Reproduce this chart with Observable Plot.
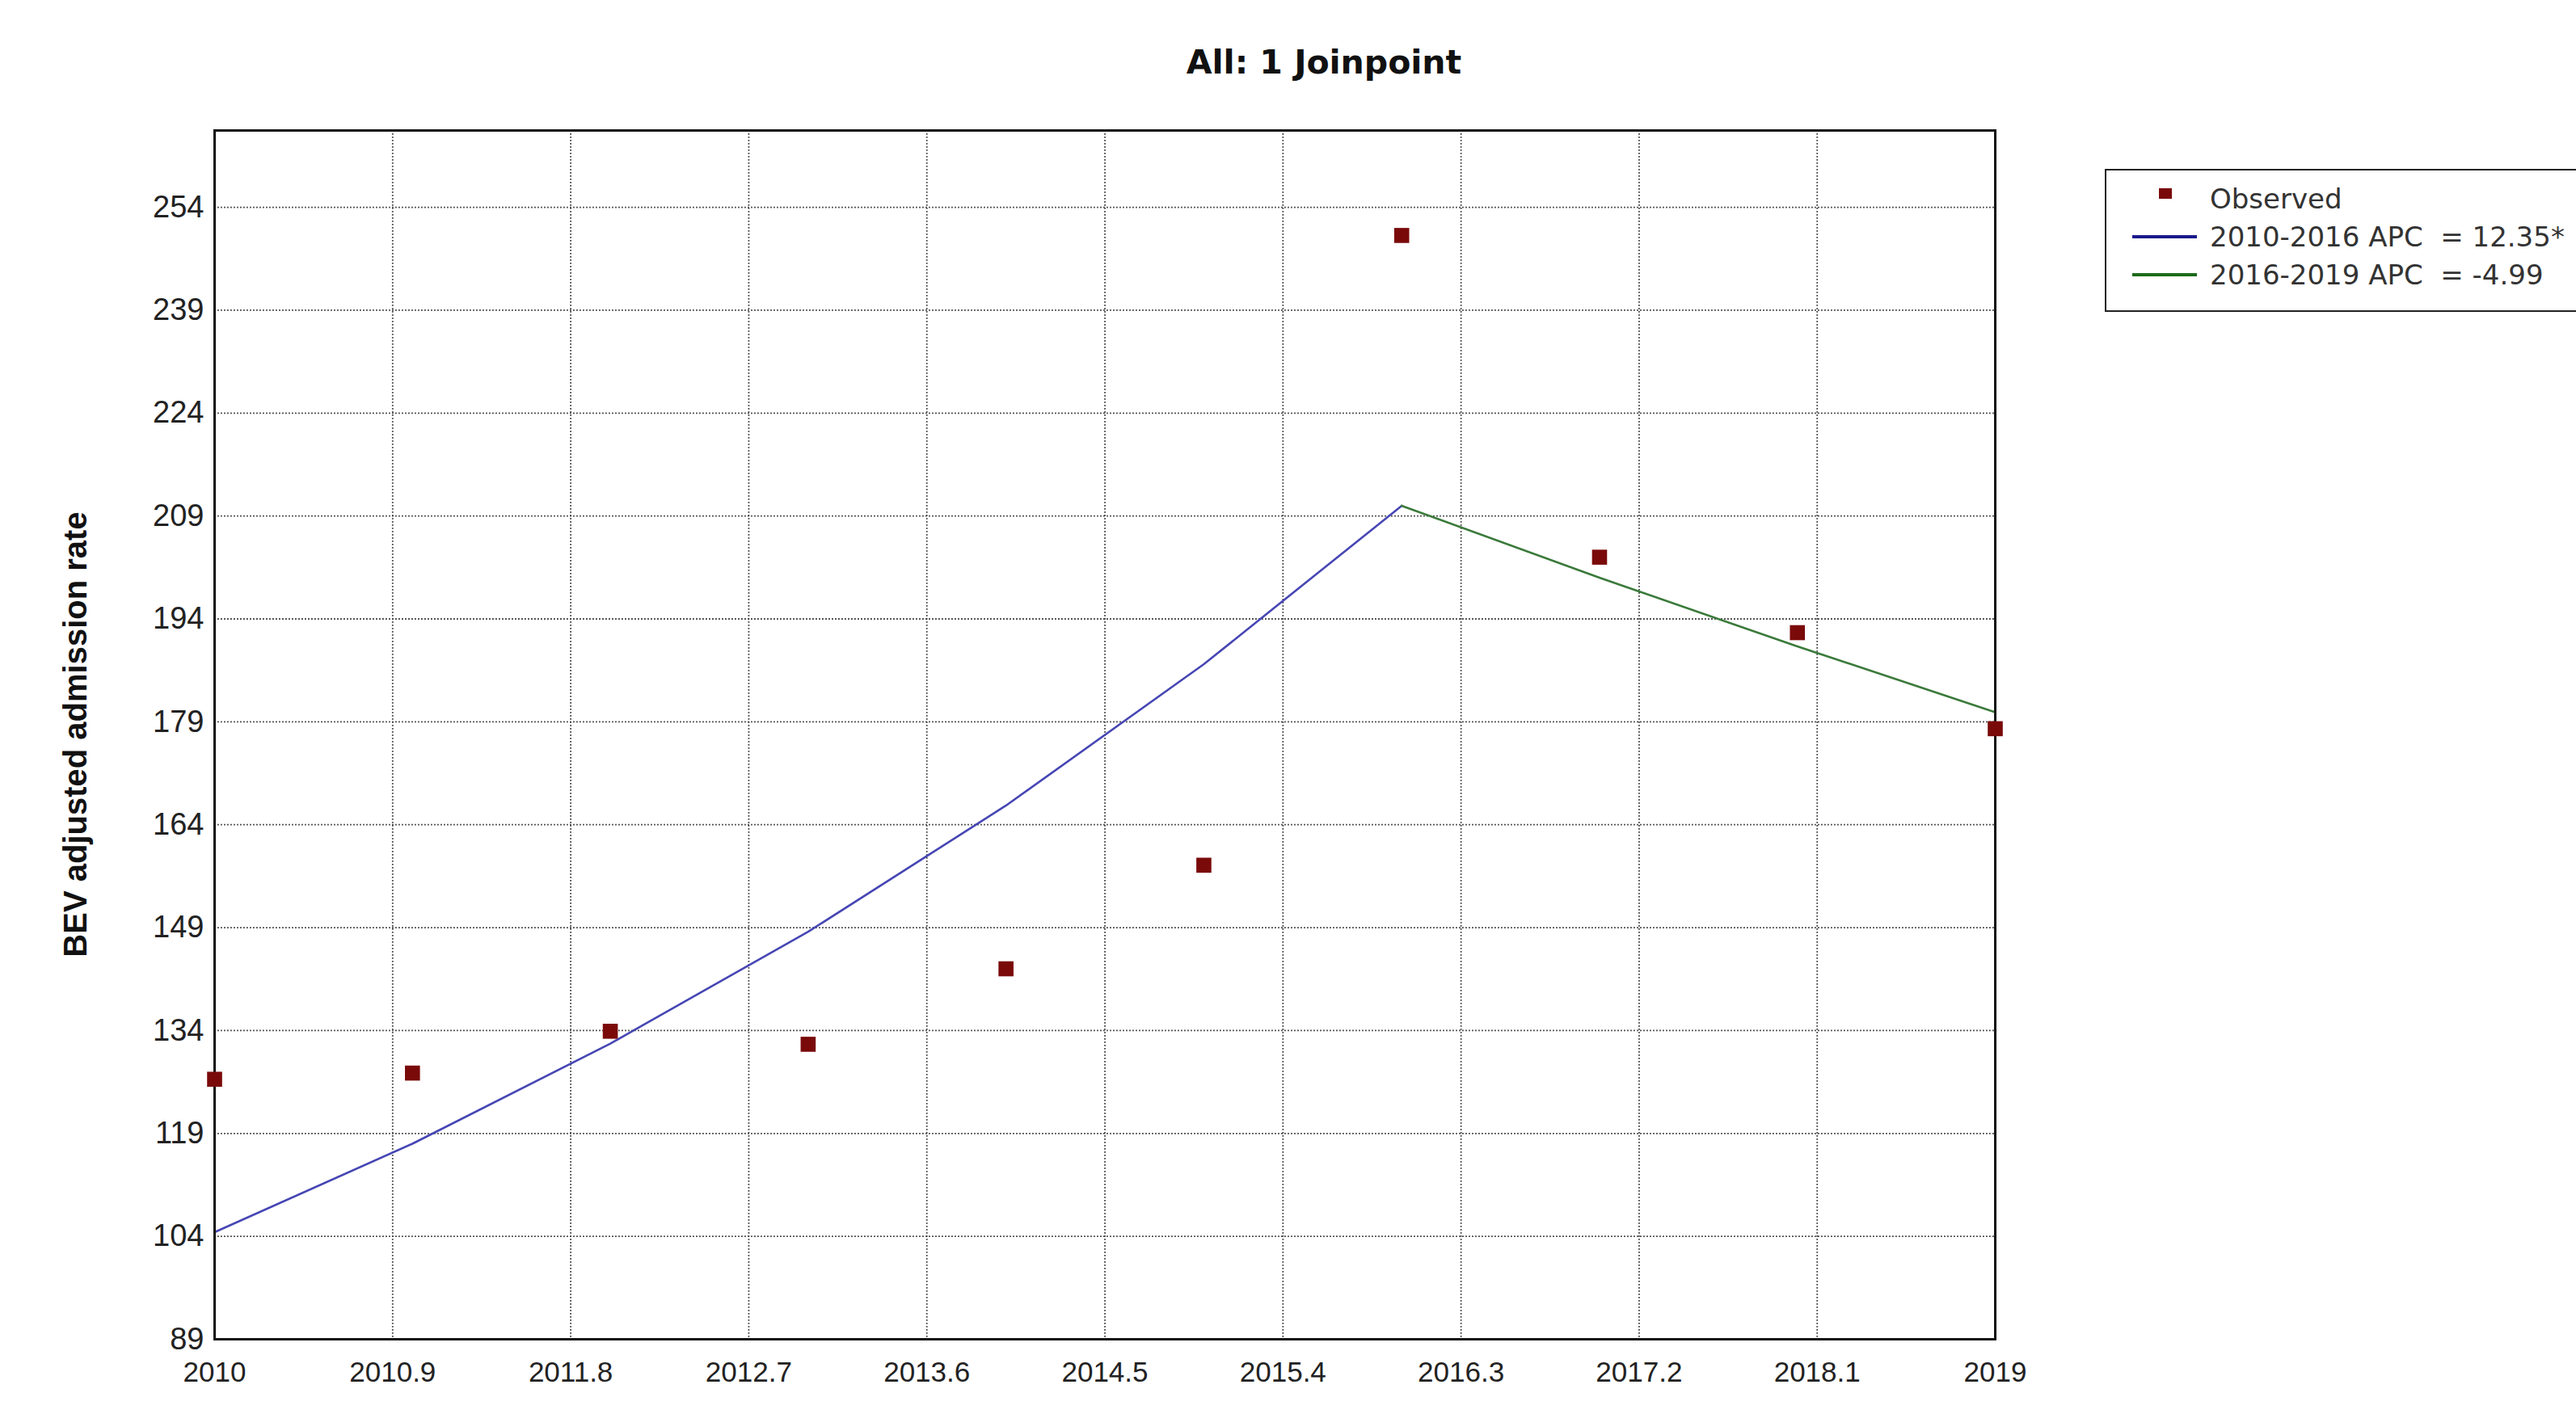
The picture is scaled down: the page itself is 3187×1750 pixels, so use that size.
<!DOCTYPE html>
<html>
<head>
<meta charset="utf-8">
<script src="https://cdn.jsdelivr.net/npm/d3@7"></script>
<script src="https://cdn.jsdelivr.net/npm/@observablehq/plot@0.6"></script>
<style>
  html, body { margin: 0; padding: 0; background: #fff; }
  body { width: 3187px; height: 1750px; overflow: hidden; position: relative; font-family: "Liberation Sans", Arial, sans-serif; }
  #title { height: 120px; position: relative; }
  #title span { position: absolute; left: 1638px; top: 77px; transform: translate(-50%, -50%); font-family: "DejaVu Sans", Verdana, sans-serif; font-weight: bold; font-size: 41px; color: #111; white-space: nowrap; }
  #ylabel { position: absolute; left: 93px; top: 909px; transform: translate(-50%, -50%) rotate(-90deg); font-weight: bold; font-size: 40px; color: #111; white-space: nowrap; }
  #legend { position: absolute; left: 2604px; top: 209px; width: 700px; height: 177px; border: 2.5px solid #222; box-sizing: border-box; font-family: "DejaVu Sans", Verdana, sans-serif; font-size: 34px; color: #333; }
  .row { position: absolute; left: 0; height: 40px; width: 700px; }
  .row .txt { position: absolute; left: 128px; top: 50%; transform: translateY(-50%); white-space: nowrap; }
  .row .sq { position: absolute; left: 65px; top: 50%; width: 16px; height: 13px; transform: translateY(-100%); background: #7a0a0a; }
  .row .ln { position: absolute; left: 32px; top: 50%; width: 80px; height: 4px; transform: translateY(-50%); }
</style>
</head>
<body>
<div id="title"><span>All: 1 Joinpoint</span></div>
<div id="chart"></div>
<div id="ylabel">BEV adjusted admission rate</div>
<div id="legend">
  <div class="row" style="top:15px"><div class="sq"></div><div class="txt">Observed</div></div>
  <div class="row" style="top:62px"><div class="ln" style="background:#1a1a8c"></div><div class="txt">2010-2016 APC&nbsp; = 12.35*</div></div>
  <div class="row" style="top:109px"><div class="ln" style="background:#1b6b1b"></div><div class="txt">2016-2019 APC&nbsp; = -4.99</div></div>
</div>
<script>
// Observed values
const years = [2010, 2011, 2012, 2013, 2014, 2015, 2016, 2017, 2018, 2019];
const observed = [126.9, 127.8, 133.9, 132.0, 143.0, 158.1, 249.9, 203.0, 192.0, 178.0];

// Fitted segment 1 (2010-2016)
const seg1Years = [2010, 2011, 2012, 2013, 2014, 2015, 2016];
const seg1Values = [104.6, 117.5, 132.1, 148.4, 166.8, 187.4, 210.5];

// Fitted segment 2 (2016-2019)
const seg2Years = [2016, 2017, 2018, 2019];
const seg2Values = [210.5, 200.0, 190.0, 180.4];

// Tick labels
const xTicks = [2010, 2010.9, 2011.8, 2012.7, 2013.6, 2014.5, 2015.4, 2016.3, 2017.2, 2018.1, 2019];
const yTicks = [89, 104, 119, 134, 149, 164, 179, 194, 209, 224, 239, 254];

const obsData = years.map((y, i) => ({year: y, value: observed[i]}));
const seg1 = seg1Years.map((y, i) => ({year: y, value: seg1Values[i]}));
const seg2 = seg2Years.map((y, i) => ({year: y, value: seg2Values[i]}));

const chart = Plot.plot({
  width: 2560,
  height: 1630,
  marginTop: 41,
  marginBottom: 93,
  marginLeft: 265,
  marginRight: 92,
  style: {fontFamily: "'Liberation Sans', Arial, sans-serif", color: "#222", background: "transparent", overflow: "visible"},
  x: {domain: [2010, 2019]},
  y: {domain: [89, 265.2]},
  marks: [
    Plot.gridX(xTicks, {stroke: "#444", strokeOpacity: 1, strokeWidth: 1.8, strokeDasharray: "1.8,2.2"}),
    Plot.gridY(yTicks, {stroke: "#444", strokeOpacity: 1, strokeWidth: 1.8, strokeDasharray: "1.8,2.2"}),
    Plot.axisX(xTicks, {tickSize: 0, tickPadding: 28, fontSize: 35, tickFormat: d => String(d), label: null}),
    Plot.axisY(yTicks, {tickSize: 0, tickPadding: 13, fontSize: 38, tickFormat: d => String(d), label: null}),
    Plot.line(seg1, {x: "year", y: "value", stroke: "#4646b4", strokeWidth: 2.6, curve: "linear"}),
    Plot.line(seg2, {x: "year", y: "value", stroke: "#3a7a3a", strokeWidth: 2.6, curve: "linear"}),
    Plot.frame({stroke: "#111", strokeWidth: 3}),
    Plot.dot(obsData, {x: "year", y: "value", symbol: "square", r: 10.5, fill: "#7a0a0a", stroke: "none"})
  ]
});
document.getElementById("chart").appendChild(chart);
</script>
</body>
</html>
